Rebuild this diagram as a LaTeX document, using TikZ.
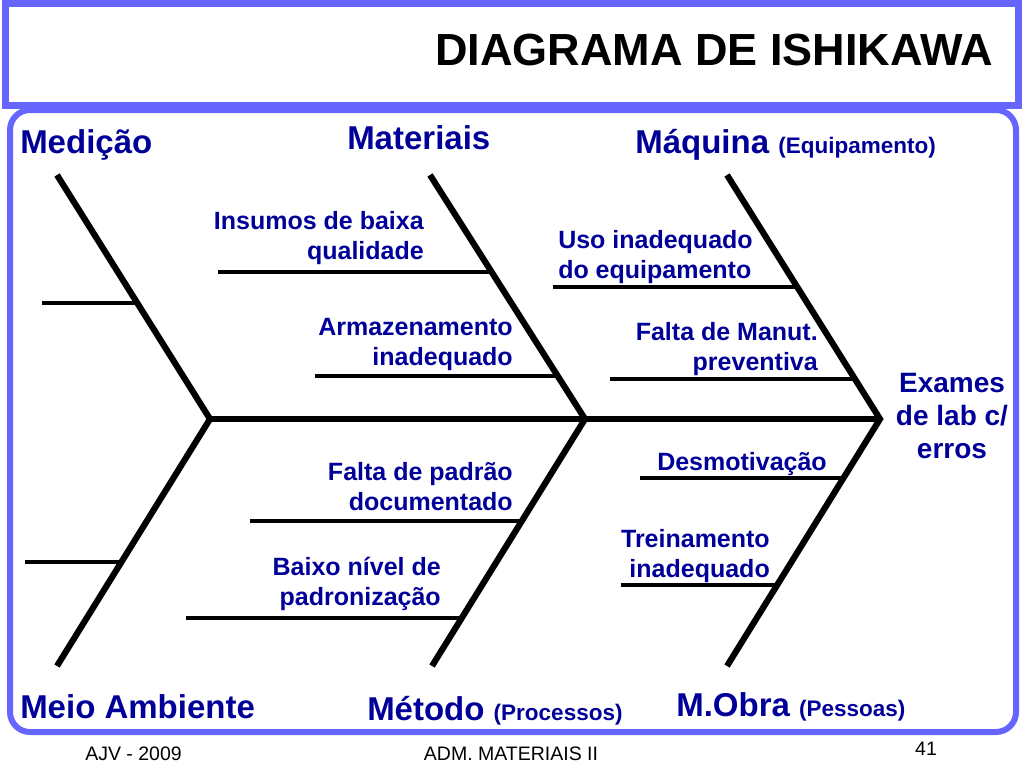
\documentclass[tikz,border=0pt]{standalone}
\usepackage{fontspec}
\setmainfont{Liberation Sans}
\usepackage{color}
\usetikzlibrary{positioning}
\definecolor{navy}{RGB}{0,0,153}
\definecolor{rim}{RGB}{102,102,255}
\tikzset{every picture/.style={line width=0.5pt}}
\tikzstyle{cat}=[text=navy,font=\fontsize{33}{36}\selectfont\bfseries,anchor=base west,inner sep=0pt]
\tikzstyle{cause}=[text=navy,font=\fontsize{25}{30}\selectfont\bfseries,inner sep=0pt,align=right,anchor=base east]
\tikzstyle{foot}=[font=\fontsize{19.5}{22}\selectfont,inner sep=0pt,anchor=base]
\tikzstyle{bone}=[line width=6.2pt]
\tikzstyle{rib}=[line width=4pt]
\newcommand{\paren}[1]{{\fontsize{22.5}{25}\selectfont #1}}

\begin{document}
\begin{tikzpicture}[x=1pt,y=-1pt]
\useasboundingbox (0,0) rectangle (1024,768);
\draw[rim,line width=7pt] (5,4) rectangle (1018,105);
\draw[rim,line width=6pt,rounded corners=20pt] (10,110) rectangle (1016,732);
\node[anchor=base east,inner sep=0pt,font=\fontsize{45}{50}\selectfont\bfseries] (title) at (993,65) {DIAGRAMA DE ISHIKAWA};
% categories
\node[cat] (med) at (20,153) {Medição};
\node[cat] (mat) at (347,149) {Materiais};
\node[cat] (maq) at (635,153) {Máquina \paren{(Equipamento)}};
\node[cat] (mei) at (20,718) {Meio Ambiente};
\node[cat] (met) at (367,720) {Método \paren{(Processos)}};
\node[cat] (mob) at (676,716) {M.Obra \paren{(Pessoas)}};
\node[cause,font=\fontsize{28}{33}\selectfont\bfseries,align=center,anchor=base] (eff) at (952,458) {Exames\\de lab c/\\erros};
% bones
\coordinate (t1) at (57,175);
\coordinate (j1) at (210,419);
\coordinate (b1) at (57,666);
\coordinate (t2) at (430,175);
\coordinate (j2) at (585,419);
\coordinate (b2) at (432,666);
\coordinate (t3) at (727,175);
\coordinate (j3) at (880,419);
\coordinate (b3) at (727,666);
\draw[bone] (t1) -- (j1) -- (b1);
\draw[bone] (t2) -- (j2) -- (b2);
\draw[bone] (t3) -- (j3) -- (b3);
\draw[bone] (j1) -- (j3);
% ribs
\coordinate (m1l) at (42,303);  \coordinate (m1r) at (137,303);
\coordinate (e1l) at (25,562);  \coordinate (e1r) at (121,562);
\coordinate (a1l) at (218,272); \coordinate (a1r) at (492,272);
\coordinate (a2l) at (315,376); \coordinate (a2r) at (558,376);
\coordinate (p1l) at (250,521); \coordinate (p1r) at (522,521);
\coordinate (p2l) at (186,618); \coordinate (p2r) at (462,618);
\coordinate (q1l) at (553,287); \coordinate (q1r) at (797,287);
\coordinate (q2l) at (610,379); \coordinate (q2r) at (855,379);
\coordinate (o1l) at (640,478); \coordinate (o1r) at (843,478);
\coordinate (o2l) at (621,585); \coordinate (o2r) at (777,585);
\path[rib]
(m1l) edge (m1r)
(e1l) edge (e1r)
(a1l) edge (a1r)
(a2l) edge (a2r)
(p1l) edge (p1r)
(p2l) edge (p2r)
(q1l) edge (q1r)
(q2l) edge (q2r)
(o1l) edge (o1r)
(o2l) edge (o2r);
% causes
\node[cause] (ins) at (424,259) {Insumos de baixa\\qualidade};
\node[cause] (arm) at (513,365) {Armazenamento\\inadequado};
\node[cause] (pad) at (513,510) {Falta de padrão\\documentado};
\node[cause] (bai) at (441,605) {Baixo nível de\\padronização};
\node[cause,align=left,anchor=base west] (uso) at (558,278) {Uso inadequado\\do equipamento};
\node[cause] (man) at (818,370) {Falta de Manut.\\preventiva};
\node[cause,anchor=base west] (des) at (657,470) {Desmotivação};
\node[cause] (tre) at (770,577) {Treinamento\\inadequado};
% footer
\node[foot,anchor=base west] (ajv) at (85,760) {AJV - 2009};
\node[foot] (adm) at (511,760) {ADM. MATERIAIS II};
\node[foot] (pg) at (926,755) {41};
\end{tikzpicture}
\end{document}
